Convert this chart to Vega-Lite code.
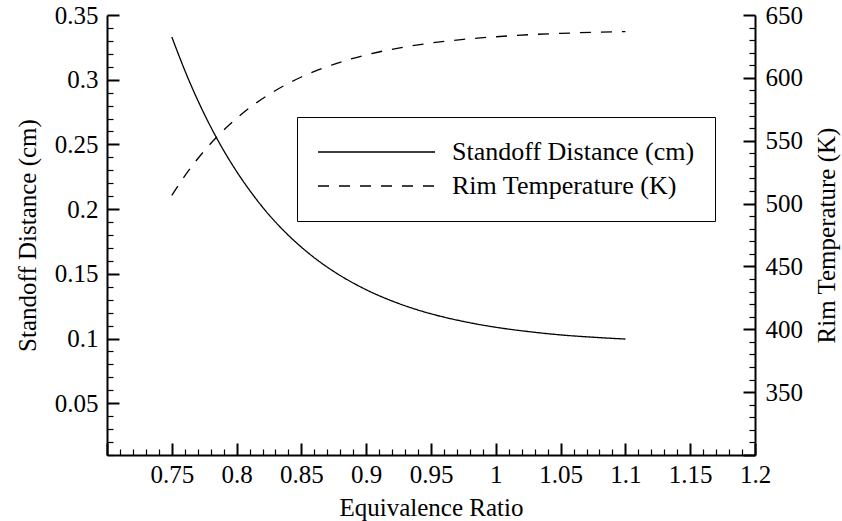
{
  "$schema": "https://vega.github.io/schema/vega-lite/v6.json",
  "width": 648,
  "height": 440,
  "autosize": {"type": "none"},
  "padding": {"left": 107, "top": 15, "right": 87, "bottom": 66},
  "background": "white",
  "config": {
    "view": {"stroke": null},
    "font": "Liberation Serif",
    "axis": {
      "grid": false,
      "domainColor": "black",
      "domainWidth": 2,
      "tickColor": "black",
      "labelColor": "black",
      "titleColor": "black",
      "labelFont": "Liberation Serif",
      "titleFont": "Liberation Serif",
      "labelFontSize": 25,
      "titleFontSize": 25,
      "titleFontWeight": "normal",
      "labelFlush": false,
      "labelOverlap": false,
      "labelBound": false
    }
  },
  "data": {
    "values": [
      {"phi": 0.75, "standoff": 0.333, "temp": 506.5},
      {"phi": 0.7625, "standoff": 0.3012, "temp": 525.6},
      {"phi": 0.775, "standoff": 0.2736, "temp": 541.9},
      {"phi": 0.7875, "standoff": 0.2497, "temp": 555.9},
      {"phi": 0.8, "standoff": 0.2291, "temp": 567.8},
      {"phi": 0.8125, "standoff": 0.2112, "temp": 578.1},
      {"phi": 0.825, "standoff": 0.1956, "temp": 586.8},
      {"phi": 0.8375, "standoff": 0.1822, "temp": 594.3},
      {"phi": 0.85, "standoff": 0.1706, "temp": 600.7},
      {"phi": 0.8625, "standoff": 0.1605, "temp": 606.1},
      {"phi": 0.875, "standoff": 0.1518, "temp": 610.8},
      {"phi": 0.9, "standoff": 0.1377, "temp": 618.3},
      {"phi": 0.925, "standoff": 0.1271, "temp": 623.7},
      {"phi": 0.95, "standoff": 0.1191, "temp": 627.7},
      {"phi": 0.975, "standoff": 0.1132, "temp": 630.6},
      {"phi": 1.0, "standoff": 0.1087, "temp": 632.7},
      {"phi": 1.025, "standoff": 0.1054, "temp": 634.3},
      {"phi": 1.05, "standoff": 0.1028, "temp": 635.4},
      {"phi": 1.075, "standoff": 0.101, "temp": 636.2},
      {"phi": 1.1, "standoff": 0.0996, "temp": 636.8}
    ]
  },
  "encoding": {
    "x": {
      "field": "phi",
      "type": "quantitative",
      "scale": {"domain": [0.7, 1.2], "nice": false, "zero": false},
      "axis": {
        "title": "Equivalence Ratio",
        "values": [0.7, 0.71, 0.72, 0.73, 0.74, 0.75, 0.76, 0.77, 0.78, 0.79, 0.8, 0.81, 0.82, 0.83, 0.84, 0.85, 0.86, 0.87, 0.88, 0.89, 0.9, 0.91, 0.92, 0.93, 0.94, 0.95, 0.96, 0.97, 0.98, 0.99, 1.0, 1.01, 1.02, 1.03, 1.04, 1.05, 1.06, 1.07, 1.08, 1.09, 1.1, 1.11, 1.12, 1.13, 1.14, 1.15, 1.16, 1.17, 1.18, 1.19, 1.2],
        "labelExpr": "abs(datum.value*20-round(datum.value*20))<0.001 && datum.value>0.705 ? format(datum.value,'.2~f') : ''",
        "tickSize": {"condition": {"test": "abs(datum.value*20-round(datum.value*20))<0.001", "value": -12}, "value": -6},
        "tickWidth": {"condition": {"test": "abs(datum.value*20-round(datum.value*20))<0.001", "value": 2}, "value": 1.2},
        "labelPadding": 19,
        "titlePadding": 2
      }
    }
  },
  "layer": [
    {
      "mark": {"type": "line", "color": "black", "strokeWidth": 1.3, "interpolate": "monotone"},
      "encoding": {
        "y": {
          "field": "standoff",
          "type": "quantitative",
          "scale": {"domain": [0.01, 0.35], "nice": false, "zero": false},
          "axis": {
            "title": "Standoff Distance (cm)",
            "orient": "left",
            "values": [0.01, 0.02, 0.03, 0.04, 0.05, 0.06, 0.07, 0.08, 0.09, 0.1, 0.11, 0.12, 0.13, 0.14, 0.15, 0.16, 0.17, 0.18, 0.19, 0.2, 0.21, 0.22, 0.23, 0.24, 0.25, 0.26, 0.27, 0.28, 0.29, 0.3, 0.31, 0.32, 0.33, 0.34, 0.35],
            "labelExpr": "abs(datum.value*20-round(datum.value*20))<0.001 ? format(datum.value,'.2~f') : ''",
            "tickSize": {"condition": {"test": "abs(datum.value*20-round(datum.value*20))<0.001", "value": -12}, "value": -6},
            "tickWidth": {"condition": {"test": "abs(datum.value*20-round(datum.value*20))<0.001", "value": 2}, "value": 1.2},
            "labelPadding": 21,
            "titlePadding": 14
          }
        },
        "strokeDash": {
          "datum": "Standoff Distance (cm)",
          "type": "nominal",
          "scale": {"domain": ["Standoff Distance (cm)", "Rim Temperature (K)"], "range": [[1, 0], [11, 10]]},
          "legend": {
            "title": null,
            "orient": "none",
            "legendX": 190,
            "legendY": 102,
            "symbolType": "stroke",
            "symbolSize": 13689,
            "symbolStrokeColor": "black",
            "symbolStrokeWidth": 1.3,
            "labelFont": "Liberation Serif",
            "labelFontSize": 26,
            "labelColor": "black",
            "labelOffset": 16,
            "labelLimit": 400,
            "clipHeight": 30,
            "rowPadding": 4,
            "padding": 20,
            "strokeColor": "black",
            "fillColor": "white"
          }
        }
      }
    },
    {
      "mark": {"type": "line", "color": "black", "strokeWidth": 1.3, "interpolate": "monotone"},
      "encoding": {
        "y": {
          "field": "temp",
          "type": "quantitative",
          "scale": {"domain": [300, 650], "nice": false, "zero": false},
          "axis": {
            "title": "Rim Temperature (K)",
            "orient": "right",
            "titleAngle": 270,
            "titleBaseline": "top",
            "values": [300, 310, 320, 330, 340, 350, 360, 370, 380, 390, 400, 410, 420, 430, 440, 450, 460, 470, 480, 490, 500, 510, 520, 530, 540, 550, 560, 570, 580, 590, 600, 610, 620, 630, 640, 650],
            "labelExpr": "datum.value % 50 == 0 && datum.value > 300 ? format(datum.value,'d') : ''",
            "tickSize": {"condition": {"test": "datum.value % 50 == 0", "value": -12}, "value": -6},
            "tickWidth": {"condition": {"test": "datum.value % 50 == 0", "value": 2}, "value": 1.2},
            "labelPadding": 22,
            "titlePadding": 12
          }
        },
        "strokeDash": {"datum": "Rim Temperature (K)", "type": "nominal"}
      }
    }
  ],
  "resolve": {"scale": {"y": "independent"}}
}
